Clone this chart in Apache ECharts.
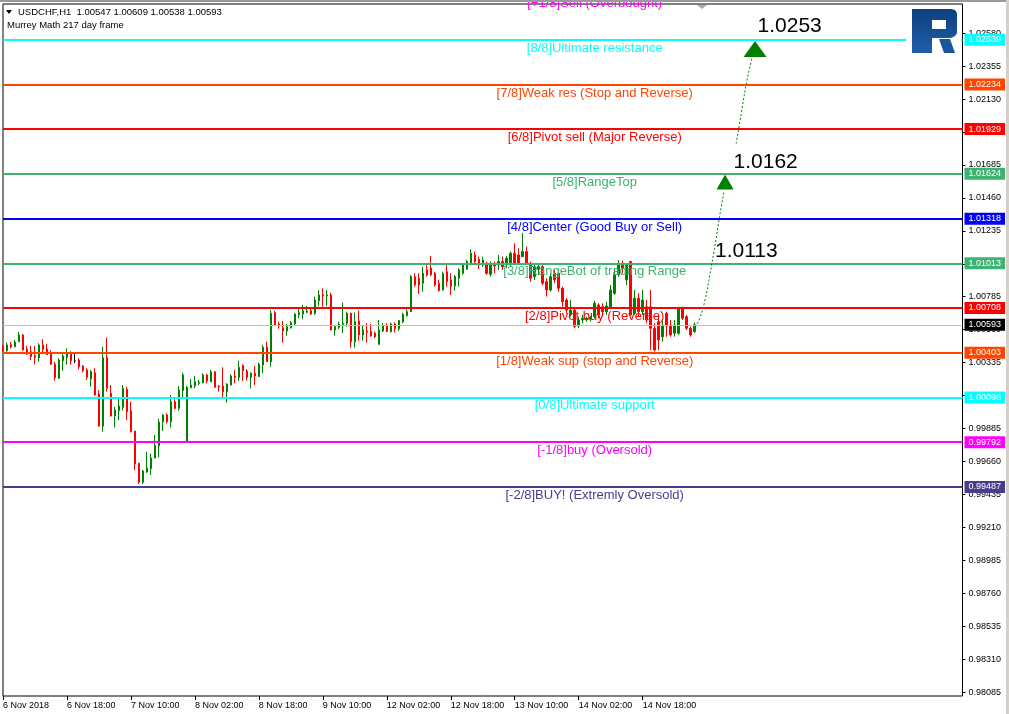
<!DOCTYPE html>
<html><head><meta charset="utf-8">
<script src="https://cdn.jsdelivr.net/npm/echarts@6.0.0/dist/echarts.min.js"></script>
<style>html,body{margin:0;padding:0;background:#fff}#c{width:1009px;height:714px}</style>
</head><body><div id="c"></div>
<script>
// ---------- data ----------
const symbolInfo = 'USDCHF,H1  1.00547 1.00609 1.00538 1.00593';
const indicatorName = 'Murrey Math 217 day frame';
const xTickLabels = ['6 Nov 2018','6 Nov 18:00','7 Nov 10:00','8 Nov 02:00','8 Nov 18:00','9 Nov 10:00','12 Nov 02:00','12 Nov 18:00','13 Nov 10:00','14 Nov 02:00','14 Nov 18:00'];
const barsPerTick = 16;
const totalSlots = 241;
const yTickValues = [0.98085,0.98310,0.98535,0.98760,0.98985,0.99210,0.99435,0.99660,0.99885,1.00110,1.00335,1.00560,1.00785,1.01010,1.01235,1.01460,1.01685,1.01905,1.02130,1.02355,1.02580];
// candles: [open, close, low, high]
const candles = [
[1.00440,1.00417,1.00406,1.00456],[1.00417,1.00456,1.00406,1.00471],[1.00458,1.00444,1.00433,1.00476],[1.00444,1.00476,1.00440,1.00490],
[1.00478,1.00524,1.00476,1.00544],[1.00524,1.00421,1.00418,1.00531],[1.00426,1.00392,1.00387,1.00449],[1.00410,1.00376,1.00353,1.00449],
[1.00383,1.00372,1.00324,1.00449],[1.00369,1.00456,1.00342,1.00467],[1.00456,1.00426,1.00399,1.00495],[1.00428,1.00389,1.00387,1.00462],
[1.00403,1.00324,1.00321,1.00421],[1.00324,1.00232,1.00212,1.00342],[1.00228,1.00353,1.00225,1.00365],[1.00348,1.00381,1.00280,1.00399],
[1.00372,1.00403,1.00321,1.00433],[1.00403,1.00348,1.00321,1.00413],[1.00348,1.00348,1.00331,1.00394],[1.00353,1.00307,1.00290,1.00365],
[1.00312,1.00280,1.00269,1.00319],[1.00285,1.00235,1.00217,1.00297],[1.00223,1.00273,1.00171,1.00285],[1.00266,1.00114,1.00110,1.00297],
[1.00121,0.99902,0.99898,1.00148],[0.99902,1.00369,0.99863,1.00444],[1.00369,1.00160,1.00137,1.00506],[1.00126,0.99971,0.99968,1.00182],
[0.99971,1.00012,0.99892,1.00034],[1.00007,1.00039,0.99943,1.00092],[1.00030,1.00160,1.00007,1.00182],[1.00153,1.00000,0.99943,1.00171],
[1.00007,0.99863,0.99859,1.00068],[0.99868,0.99643,0.99602,0.99870],[0.99648,0.99518,0.99506,0.99652],[0.99518,0.99595,0.99506,0.99602],
[0.99588,0.99616,0.99583,0.99726],[0.99611,0.99684,0.99568,0.99715],[0.99684,0.99771,0.99682,0.99841],[0.99766,0.99930,0.99689,0.99952],
[0.99932,0.99978,0.99868,0.99984],[0.99978,0.99932,0.99921,0.99989],[0.99932,1.00068,0.99892,1.00114],[1.00068,1.00023,1.00016,1.00085],
[1.00023,1.00148,1.00007,1.00176],[1.00144,1.00251,1.00100,1.00267],[0.99792,1.00167,0.99788,1.00176],[1.00164,1.00182,1.00160,1.00223],
[1.00176,1.00205,1.00160,1.00244],[1.00194,1.00201,1.00182,1.00217],[1.00198,1.00251,1.00194,1.00262],[1.00251,1.00210,1.00194,1.00256],
[1.00205,1.00273,1.00201,1.00285],[1.00273,1.00167,1.00165,1.00276],[1.00176,1.00171,1.00137,1.00182],[1.00176,1.00137,1.00094,1.00303],
[1.00135,1.00189,1.00062,1.00194],[1.00182,1.00244,1.00180,1.00256],[1.00244,1.00235,1.00194,1.00285],[1.00235,1.00303,1.00210,1.00348],
[1.00315,1.00280,1.00210,1.00324],[1.00278,1.00235,1.00212,1.00290],[1.00235,1.00262,1.00160,1.00269],[1.00262,1.00244,1.00182,1.00312],
[1.00240,1.00324,1.00238,1.00335],[1.00319,1.00440,1.00262,1.00456],[1.00440,1.00342,1.00340,1.00478],[1.00342,1.00672,1.00307,1.00694],
[1.00676,1.00592,1.00585,1.00688],[1.00599,1.00587,1.00567,1.00615],[1.00574,1.00551,1.00471,1.00620],[1.00551,1.00581,1.00519,1.00599],
[1.00574,1.00608,1.00567,1.00620],[1.00599,1.00667,1.00592,1.00672],[1.00663,1.00676,1.00638,1.00702],[1.00667,1.00690,1.00631,1.00729],
[1.00679,1.00688,1.00672,1.00722],[1.00690,1.00667,1.00661,1.00706],[1.00672,1.00763,1.00661,1.00786],[1.00758,1.00797,1.00722,1.00831],
[1.00797,1.00790,1.00717,1.00843],[1.00790,1.00797,1.00722,1.00831],[1.00797,1.00558,1.00555,1.00813],[1.00558,1.00581,1.00519,1.00592],
[1.00577,1.00599,1.00563,1.00615],[1.00597,1.00604,1.00536,1.00745],[1.00604,1.00672,1.00581,1.00683],[1.00672,1.00478,1.00437,1.00676],
[1.00478,1.00615,1.00437,1.00676],[1.00620,1.00524,1.00485,1.00690],[1.00524,1.00558,1.00485,1.00592],[1.00551,1.00542,1.00471,1.00604],
[1.00547,1.00519,1.00512,1.00599],[1.00536,1.00512,1.00501,1.00547],[1.00460,1.00558,1.00458,1.00626],[1.00551,1.00585,1.00544,1.00604],
[1.00587,1.00547,1.00544,1.00604],[1.00547,1.00599,1.00540,1.00608],[1.00599,1.00567,1.00540,1.00610],[1.00567,1.00622,1.00551,1.00626],
[1.00613,1.00665,1.00604,1.00676],[1.00656,1.00683,1.00649,1.00699],[1.00683,1.00922,1.00681,1.00934],[1.00922,1.00865,1.00854,1.00945],
[1.00911,1.00865,1.00804,1.00945],[1.00877,1.00945,1.00820,1.00990],[1.00968,1.00934,1.00922,1.01002],[1.00980,1.00934,1.00927,1.01064],
[1.00945,1.00865,1.00854,1.00956],[1.00877,1.00827,1.00820,1.00900],[1.00831,1.00945,1.00827,1.00956],[1.00956,1.00888,1.00854,1.01014],
[1.00900,1.00854,1.00797,1.00945],[1.00859,1.00922,1.00827,1.00934],[1.00911,1.00968,1.00854,1.00980],[1.00945,1.01002,1.00934,1.01014],
[1.00973,1.01025,1.00968,1.01036],[1.01014,1.01082,1.01002,1.01109],[1.01070,1.01025,1.01002,1.01093],[1.01041,1.01002,1.00973,1.01059],
[1.01002,1.01036,1.00990,1.01059],[1.01014,1.00945,1.00934,1.01025],[1.00939,1.01002,1.00922,1.01025],[1.01002,1.00995,1.00945,1.01025],
[1.01002,1.01025,1.00968,1.01070],[1.01025,1.00990,1.00968,1.01059],[1.01002,1.01048,1.00980,1.01064],[1.01014,1.01082,1.00990,1.01093],
[1.01082,1.01014,1.01002,1.01150],[1.01070,1.01014,1.01002,1.01116],[1.01059,1.01093,1.01055,1.01221],[1.01093,1.01014,1.01002,1.01127],
[1.01014,1.00911,1.00888,1.01025],[1.00922,1.00990,1.00900,1.01014],[1.00973,1.00990,1.00934,1.01014],[1.00990,1.00877,1.00865,1.01002],
[1.00888,1.00831,1.00786,1.00911],[1.00831,1.00922,1.00820,1.00945],[1.00945,1.00900,1.00877,1.00968],[1.00945,1.00843,1.00820,1.00968],
[1.00843,1.00751,1.00717,1.00854],[1.00763,1.00694,1.00672,1.00775],[1.00661,1.00694,1.00649,1.00763],[1.00694,1.00581,1.00570,1.00706],
[1.00585,1.00626,1.00570,1.00649],[1.00626,1.00638,1.00604,1.00661],[1.00626,1.00638,1.00615,1.00649],[1.00631,1.00642,1.00615,1.00654],
[1.00649,1.00740,1.00638,1.00756],[1.00729,1.00661,1.00638,1.00740],[1.00717,1.00683,1.00649,1.00740],[1.00683,1.00722,1.00661,1.00751],
[1.00717,1.00831,1.00706,1.00865],[1.00809,1.00934,1.00797,1.00980],[1.00934,1.01014,1.00922,1.01036],[1.01014,1.00980,1.00945,1.01031],
[1.00900,1.01002,1.00865,1.01014],[1.01025,1.00661,1.00658,1.01031],[1.00672,1.00775,1.00661,1.00831],[1.00775,1.00683,1.00649,1.00809],
[1.00683,1.00763,1.00661,1.00831],[1.00717,1.00626,1.00604,1.00763],[1.00717,1.00570,1.00421,1.00831],[1.00570,1.00421,1.00410,1.00604],
[1.00615,1.00490,1.00421,1.00649],[1.00512,1.00592,1.00478,1.00626],[1.00672,1.00585,1.00512,1.00683],[1.00592,1.00524,1.00512,1.00626],
[1.00536,1.00592,1.00512,1.00626],[1.00536,1.00706,1.00524,1.00717],[1.00706,1.00638,1.00626,1.00717],[1.00649,1.00570,1.00558,1.00661],
[1.00570,1.00524,1.00512,1.00581],[1.00547,1.00593,1.00538,1.00609]
];
const currentPrice = 1.00593;
const levelValues = [1.02844,1.02539,1.02234,1.01929,1.01624,1.01318,1.01013,1.00708,1.00403,1.00098,0.99792,0.99487];
const levelNames = ['[+1/8]Sell (Overbought)','[8/8]Ultimate resistance','[7/8]Weak res (Stop and Reverse)','[6/8]Pivot sell (Major Reverse)','[5/8]RangeTop','[4/8]Center (Good Buy or Sell)','[3/8]RangeBot of trading Range','[2/8]Pivot buy (Reverse)','[1/8]Weak sup (stop and Reverse)','[0/8]Ultimate support','[-1/8]buy (Oversold)','[-2/8]BUY! (Extremly Oversold)'];
const levelLabelSlot = 148;
// forecast path (bar position, price)
const forecastPath1 = [[173.1,1.00578],[174.3,1.00640],[175.6,1.00763],[176.8,1.00933],[178.1,1.01138],[179.3,1.01343],[180.4,1.01510]];
const forecastPath2 = [[183.4,1.01830],[184.8,1.02059],[186.1,1.02264],[187.4,1.02420]];
const forecastTargets = [[180.6,1.0162],[188.1,1.0253]];
const forecastNote = [[178.1,1.0113]];

// ---------- styles ----------
const levelColors = ['#FF00FF','#00FFFF','#FF4500','#FF0000','#3CB371','#0000FF','#3CB371','#FF0000','#FF4500','#00FFFF','#FF00FF','#483D8B'];
const FONT = 'Liberation Sans, Arial, sans-serif';
const Y_MIN = 0.980598, Y_MAX = 1.02783;

const chart = echarts.init(document.getElementById('c'), null, {renderer: 'canvas'});
const cats = Array.from({length: totalSlots}, (_, i) => String(i));
const tickShown = (i) => i % barsPerTick === 0 && (i / barsPerTick) < xTickLabels.length;

const markData = [];
levelValues.forEach((v, i) => {
  if (v > Y_MAX || v < Y_MIN) return;
  markData.push({yAxis: v, lineStyle: {color: levelColors[i], width: 2, type: 'solid'},
    label: {backgroundColor: levelColors[i]}});
});
markData.push({yAxis: currentPrice, lineStyle: {color: '#C0C0C0', width: 1, type: 'solid'},
  label: {backgroundColor: '#000'}});

const option = {
  animation: false,
  backgroundColor: '#fff',
  grid: {left: 2.5, right: 46.5, top: 4, bottom: 18, show: true, borderColor: '#000', borderWidth: 1, backgroundColor: '#fff'},
  xAxis: [{
    type: 'category', data: cats, boundaryGap: false,
    axisLine: {show: false, onZero: false},
    axisTick: {show: true, interval: tickShown, length: 4, lineStyle: {color: '#000'}},
    axisLabel: {interval: tickShown, formatter: (v, i) => xTickLabels[i / barsPerTick] || '', align: 'left',
      color: '#000', fontSize: 9, fontFamily: FONT, margin: 5},
    splitLine: {show: false}
  }, {
    type: 'value', min: 0, max: totalSlots - 1, show: false, axisLine: {onZero: false}
  }],
  yAxis: [{
    type: 'value', position: 'right', min: Y_MIN, max: Y_MAX, scale: true,
    axisLine: {show: false, onZero: false},
    axisTick: {show: true, inside: false, length: 3, customValues: yTickValues, lineStyle: {color: '#000'}},
    axisLabel: {customValues: yTickValues, formatter: (v) => v.toFixed(5), color: '#000', fontSize: 9, fontFamily: FONT, margin: 6},
    splitLine: {show: false}
  }],
  series: [{
    type: 'candlestick', data: candles, barWidth: 2, z: 2,
    itemStyle: {color: '#008000', color0: '#FF0000', borderColor: '#008000', borderColor0: '#FF0000', borderColorDoji: '#000', borderWidth: 1},
    markLine: {
      symbol: 'none', silent: true, animation: false, z: 3, precision: 5,
      label: {show: true, position: 'end', distance: 2, formatter: (p) => Number(p.value).toFixed(5), color: '#fff',
        fontSize: 9, fontFamily: FONT, padding: [1, 4, 1, 4], lineHeight: 10},
      data: markData
    }
  }, {
    type: 'scatter', symbolSize: 0, z: 6, clip: false, silent: true,
    itemStyle: {opacity: 1},
    data: levelValues.map((v, i) => ({name: levelNames[i], value: [levelLabelSlot, v],
      label: {color: levelColors[i]}})),
    label: {show: true, position: 'inside', offset: [0, 8.5], formatter: (p) => p.name, fontSize: 13, fontFamily: FONT}
  }, {
    type: 'line', xAxisIndex: 1, data: forecastPath1, smooth: true, showSymbol: false, z: 7, silent: true,
    lineStyle: {color: '#008000', width: 1, type: [2, 2]}
  }, {
    type: 'line', xAxisIndex: 1, data: forecastPath2, smooth: true, showSymbol: false, z: 7, silent: true,
    lineStyle: {color: '#008000', width: 1, type: [2, 2]}
  }, {
    type: 'scatter', xAxisIndex: 1, z: 8, silent: true, clip: false,
    data: [
      {value: forecastTargets[0], symbolSize: [17, 15], label: {offset: [0, -20]}},
      {value: forecastTargets[1], symbolSize: [23, 16], label: {offset: [-9, -23]}}
    ],
    symbol: 'triangle', symbolOffset: [0, '50%'],
    itemStyle: {color: '#008000', opacity: 1},
    label: {show: true, position: 'right', distance: 0, formatter: (p) => p.value[1].toFixed(4), color: '#000', fontSize: 21, fontFamily: FONT}
  }, {
    type: 'scatter', xAxisIndex: 1, z: 8, silent: true, symbolSize: 0,
    itemStyle: {opacity: 1},
    data: forecastNote,
    label: {show: true, position: 'right', distance: 0, offset: [0, 5], formatter: (p) => p.value[1].toFixed(4), color: '#000', fontSize: 21, fontFamily: FONT}
  }],
  graphic: [
    {type: 'rect', shape: {x: 906, y: 5, width: 55, height: 52}, style: {fill: '#fff'}, z: 100},
    {type: 'polygon', shape: {points: [[912,9],[951,9],[955,10],[957,13],[957,33],[955,36],[951,38],[932,38],[932,53],[912,53]]},
      style: {fill: new echarts.graphic.LinearGradient(0, 0, 0, 1, [{offset: 0, color: '#0d3f80'}, {offset: 1, color: '#1f5fa8'}])}, z: 101},
    {type: 'rect', shape: {x: 932, y: 20, width: 14, height: 9}, style: {fill: '#fff'}, z: 102},
    {type: 'polygon', shape: {points: [[939,39],[950,39],[955,53],[944,53]]}, style: {fill: '#1a56a0'}, z: 101},
    {type: 'rect', shape: {x: 0, y: 0, width: 1009, height: 2}, style: {fill: '#9a9a9a'}, z: 110},
    {type: 'rect', shape: {x: 1006, y: 0, width: 3, height: 714}, style: {fill: '#d4d0c8'}, z: 110},
    {type: 'polygon', shape: {points: [[697,5],[707,5],[702,9]]}, style: {fill: '#a8a8a8'}, z: 110},
    {type: 'polygon', shape: {points: [[6,10],[12,10],[9,14]]}, style: {fill: '#000'}, z: 110},
    {type: 'text', x: 18, y: 12, style: {text: symbolInfo, font: '9.5px ' + FONT, fill: '#000', textVerticalAlign: 'middle'}, z: 110},
    {type: 'text', x: 7, y: 25, style: {text: indicatorName, font: '9.5px ' + FONT, fill: '#000', textVerticalAlign: 'middle'}, z: 110}
  ]
};
chart.setOption(option);
</script></body></html>
